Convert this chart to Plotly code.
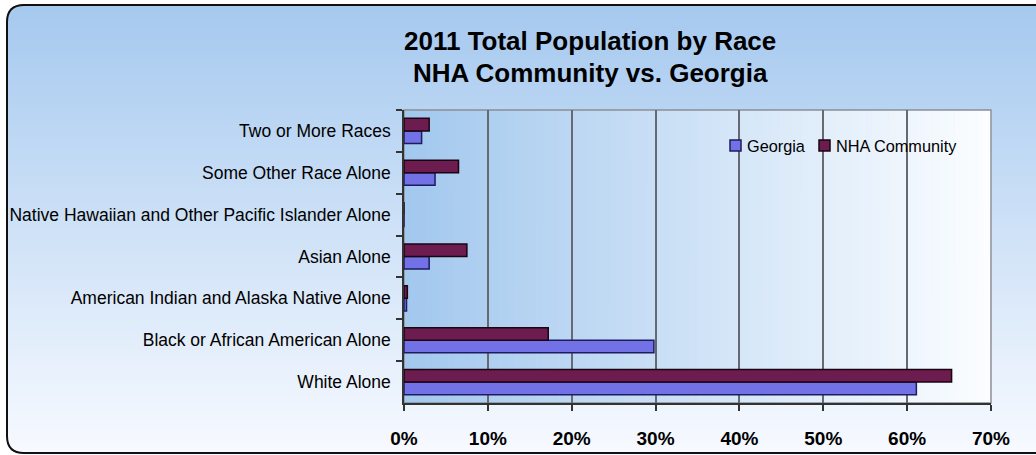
import plotly.graph_objects as go

# Race categories, listed bottom-to-top as they appear on the axis
categories = [
    "White Alone",
    "Black or African American Alone",
    "American Indian and Alaska Native Alone",
    "Asian Alone",
    "Native Hawaiian and Other Pacific Islander Alone",
    "Some Other Race Alone",
    "Two or More Races",
]
# Share of total population, percent
georgia = [61.1, 29.8, 0.3, 3.0, 0.0, 3.7, 2.1]
nha_community = [65.3, 17.2, 0.4, 7.5, 0.0, 6.5, 3.0]
x_ticks = [0, 10, 20, 30, 40, 50, 60, 70]

series_names = ["Georgia", "NHA Community"]
series_colors = ["#7272e6", "#6c1c4e"]
series_edges = ["#1c1c5e", "#1a0410"]

W, H = 1036, 455
PX0, PX1, PY0, PY1 = 404, 991, 110, 403  # plot area in pixels


def px(x):
    return x / W


def py(y):
    return 1 - y / H


def mix(c0, c1, t):
    return "rgb(%d,%d,%d)" % tuple(round(a + (b - a) * t) for a, b in zip(c0, c1))


shapes = []

# chart area: vertical blue-to-white gradient
top_c, bot_c = (166, 201, 239), (247, 250, 255)
n = 90
y_start, y_end = 5, 455
for i in range(n):
    ya = y_start + (y_end - y_start) * i / n
    yb = y_start + (y_end - y_start) * (i + 1) / n
    shapes.append(dict(type="rect", xref="paper", yref="paper",
                       x0=px(7), x1=px(W + 2), y0=py(yb + 0.5), y1=py(ya),
                       fillcolor=mix(top_c, bot_c, i / (n - 1)),
                       line=dict(width=0), layer="below"))

# white fill outside the rounded corners
shapes.append(dict(type="path", xref="paper", yref="paper", layer="below",
                   path=f"M {px(0)},{py(0)} L {px(0)},{py(22)} L {px(7)},{py(22)} "
                        f"Q {px(7)},{py(5)} {px(24)},{py(5)} L {px(24)},{py(0)} Z",
                   fillcolor="white", line=dict(width=0)))
shapes.append(dict(type="path", xref="paper", yref="paper", layer="below",
                   path=f"M {px(0)},{py(H)} L {px(0)},{py(436)} L {px(7)},{py(436)} "
                        f"Q {px(7)},{py(453)} {px(24)},{py(453)} L {px(24)},{py(H)} Z",
                   fillcolor="white", line=dict(width=0)))

# plot area: horizontal blue-to-white gradient
left_c, right_c = (163, 200, 238), (251, 253, 255)
m = 80
for i in range(m):
    xa = PX0 + (PX1 - PX0) * i / m
    xb = PX0 + (PX1 - PX0) * (i + 1) / m
    shapes.append(dict(type="rect", xref="paper", yref="paper",
                       x0=px(xa), x1=px(xb + 0.5), y0=py(PY1), y1=py(PY0),
                       fillcolor=mix(left_c, right_c, i / (m - 1)),
                       line=dict(width=0), layer="below"))

# plot area frame
shapes.append(dict(type="rect", xref="paper", yref="paper", layer="below",
                   x0=px(PX0), x1=px(PX1), y0=py(PY1), y1=py(PY0),
                   line=dict(color="#8a8f96", width=1.5), fillcolor="rgba(0,0,0,0)"))

# rounded outer border
shapes.append(dict(type="path", xref="paper", yref="paper", layer="above",
                   path=f"M {px(W + 5)},{py(5)} L {px(24)},{py(5)} "
                        f"Q {px(7)},{py(5)} {px(7)},{py(22)} L {px(7)},{py(436)} "
                        f"Q {px(7)},{py(453)} {px(24)},{py(453)} L {px(W + 5)},{py(453)}",
                   line=dict(color="#111111", width=2)))

font_family = "Liberation Sans, Arial, sans-serif"

# compact legend: swatch + label for each series
legend_swatch_x = [730, 819]
legend_text_x = [745, 834]
annotations = []
for name, color, edge, sx, tx in zip(series_names, series_colors, series_edges,
                                     legend_swatch_x, legend_text_x):
    shapes.append(dict(type="rect", xref="paper", yref="paper", layer="above",
                       x0=px(sx), x1=px(sx + 11), y0=py(151), y1=py(140),
                       fillcolor=color, line=dict(color=edge, width=1.5)))
    annotations.append(dict(text=name, xref="paper", yref="paper",
                            x=px(tx), y=py(145.5), xanchor="left", yanchor="middle",
                            showarrow=False,
                            font=dict(size=16.3, color="black", family=font_family)))

annotations += [
    dict(text="<b>2011 Total Population by Race</b>", xref="paper", yref="paper",
         x=px(590), y=py(41), xanchor="center", yanchor="middle", showarrow=False,
         font=dict(size=26, color="black", family=font_family)),
    dict(text="<b>NHA Community vs. Georgia</b>", xref="paper", yref="paper",
         x=px(590), y=py(73), xanchor="center", yanchor="middle", showarrow=False,
         font=dict(size=26, color="black", family=font_family)),
]

fig = go.Figure()
for name, values, color, edge in zip(series_names, [georgia, nha_community],
                                     series_colors, series_edges):
    fig.add_trace(go.Bar(
        name=name, y=categories, x=values, orientation="h",
        marker=dict(color=color, line=dict(color=edge, width=1.5)),
    ))

fig.update_layout(
    width=W, height=H,
    margin=dict(l=0, r=0, t=0, b=0),
    paper_bgcolor="white",
    plot_bgcolor="rgba(0,0,0,0)",
    barmode="group", bargap=0.4, bargroupgap=0,
    shapes=shapes,
    annotations=annotations,
    font=dict(family=font_family, color="black"),
    showlegend=False,
    xaxis=dict(
        domain=[px(PX0), px(PX1)], range=[0, 70],
        tickvals=x_ticks, ticktext=[f"{v}%" for v in x_ticks],
        ticks="outside", ticklen=6, tickcolor="#333", tickwidth=1.5,
        showgrid=True, gridcolor="#666a70", gridwidth=1.5, zeroline=False,
        showline=True, linecolor="#333", linewidth=1.5,
        tickfont=dict(size=19, color="black", weight="bold"),
        ticklabelstandoff=11, automargin=False, fixedrange=True,
    ),
    yaxis=dict(
        domain=[py(PY1), py(PY0)], type="category",
        categoryorder="array", categoryarray=categories,
        ticks="outside", ticklen=6, tickcolor="#333", tickwidth=1.5,
        tickson="boundaries", showgrid=False,
        showline=True, linecolor="#333", linewidth=1.5,
        tickfont=dict(size=17.5, color="black"),
        ticklabelstandoff=8, automargin=False, fixedrange=True,
    ),
)

fig.write_html("out.html")
